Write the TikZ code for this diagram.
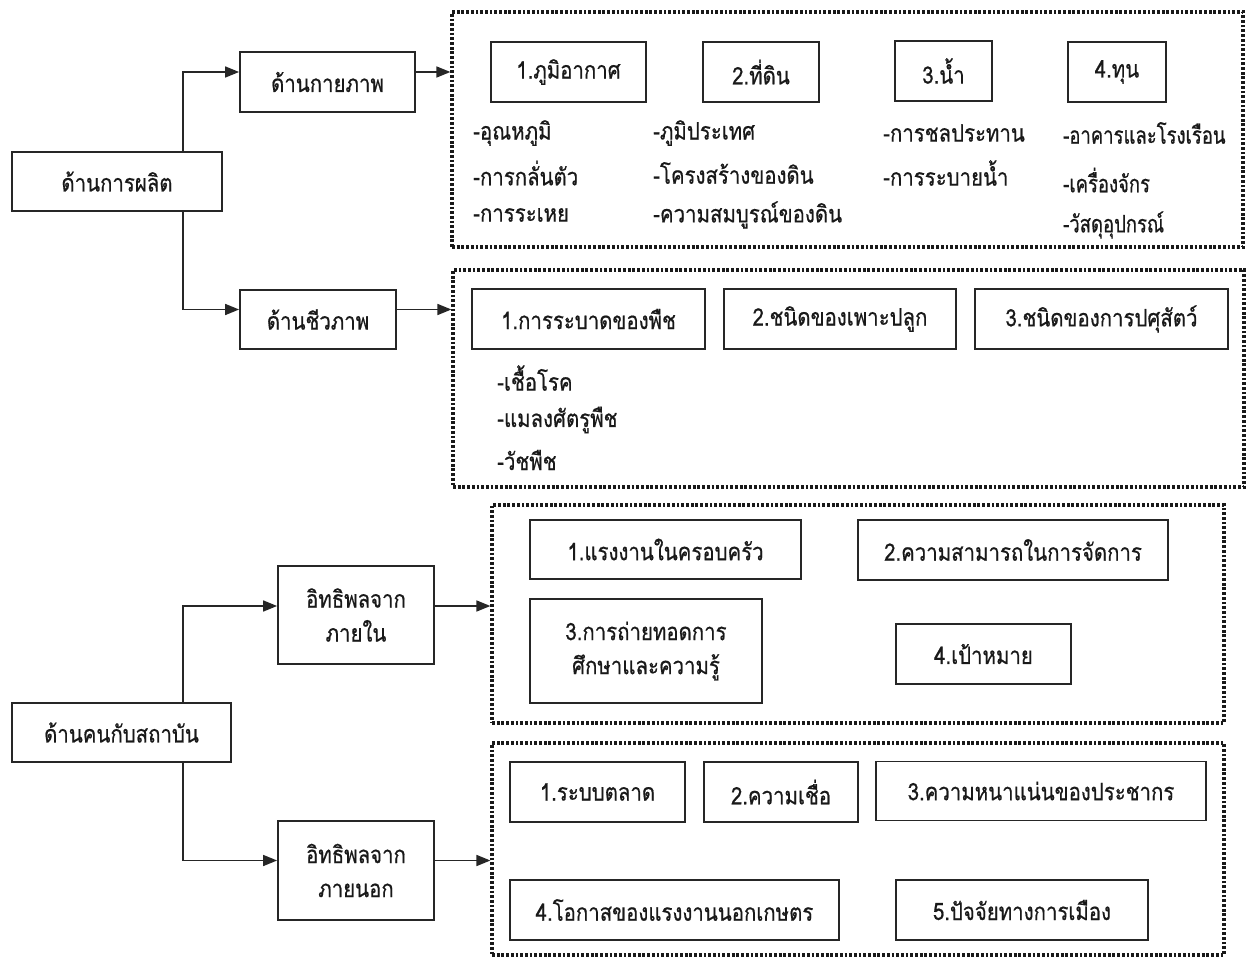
\documentclass[tikz,border=0pt]{standalone}
\usepackage{fontspec}
\setmainfont{Liberation Serif}
\newfontfamily\thai[Script=Thai,FakeStretch=0.85,FakeBold=0.6]{Loma}
\newfontfamily\thain[Script=Thai,FakeStretch=0.77,FakeBold=0.6]{Loma}
\usetikzlibrary{arrows.meta,calc}
\tikzset{
  box/.style={draw=black!85, line width=1.8pt, inner sep=0pt, align=center, text=black!90,
    font=\thai\fontsize{24}{34}\selectfont},
  dotbox/.style={draw=black!90, line width=3.2pt, dash pattern=on 2.8pt off 1.9pt, inner sep=0pt},
  item/.style={anchor=west, inner sep=0pt, text=black!90, font=\thai\fontsize{24}{28}\selectfont},
  nitem/.style={item, font=\thain\fontsize{24}{28}\selectfont},
  arr/.style={draw=black!85, line width=1.6pt, -{Triangle[length=14pt,width=11pt]}},
}
\begin{document}
\begin{tikzpicture}[x=1pt,y=-1pt]
\useasboundingbox[fill=white] (0,0) rectangle (1253,957);
\coordinate (j1) at (183,0);

% left column
\node[box, minimum width=210, minimum height=59] (prod) at (117,181.5) {ด้านการผลิต};
\node[box, minimum width=175, minimum height=60] (phys) at (327.5,82) {ด้านกายภาพ};
\node[box, minimum width=156, minimum height=59] (bio) at (318,319.5) {ด้านชีวภาพ};
\node[box, minimum width=219, minimum height=59] (people) at (121.5,732.5) {ด้านคนกับสถาบัน};
\node[box, minimum width=156, minimum height=98] (inner) at (356,615) {อิทธิพลจาก\\ภายใน};
\node[box, minimum width=156, minimum height=99] (outer) at (356,870.5) {อิทธิพลจาก\\ภายนอก};

% dotted groups
\node[dotbox, minimum width=791, minimum height=235] (g1) at (847.5,129.5) {};
\node[dotbox, minimum width=791, minimum height=217] (g2) at (848.5,378.5) {};
\node[dotbox, minimum width=732, minimum height=218] (g3) at (858,614) {};
\node[dotbox, minimum width=732, minimum height=212] (g4) at (858,849) {};

% group 1
\node[box, minimum width=155, minimum height=60] (c1) at (568.5,72) {1.ภูมิอากาศ};
\node[box, minimum width=116, minimum height=60] (c2) at (761,72) {2.ที่ดิน};
\node[box, minimum width=97, minimum height=60] (c3) at (943.5,71) {3.น้ำ};
\node[box, minimum width=98, minimum height=60] (c4) at (1117,72) {4.ทุน};
\node[item] (c1a) at (473,133) {-อุณหภูมิ};
\node[item] (c1b) at (473,173) {-การกลั่นตัว};
\node[item] (c1c) at (473,215) {-การระเหย};
\node[item] (c2a) at (653,133) {-ภูมิประเทศ};
\node[item] (c2b) at (653,173) {-โครงสร้างของดิน};
\node[item] (c2c) at (653,215) {-ความสมบูรณ์ของดิน};
\node[item] (c3a) at (883,133) {-การชลประทาน};
\node[item] (c3b) at (883,173) {-การระบายน้ำ};
\node[nitem] (c4a) at (1063,133) {-อาคารและโรงเรือน};
\node[nitem] (c4b) at (1063,180) {-เครื่องจักร};
\node[nitem] (c4c) at (1063,225) {-วัสดุอุปกรณ์};

% group 2
\node[box, minimum width=233, minimum height=60] (b1) at (588.5,319) {1.การระบาดของพืช};
\node[box, minimum width=232, minimum height=60] (b2) at (840,319) {2.ชนิดของเพาะปลูก};
\node[box, minimum width=253, minimum height=60] (b3) at (1101.5,319) {3.ชนิดของการปศุสัตว์};
\node[item] (b1a) at (497,378) {-เชื้อโรค};
\node[item] (b1b) at (497,420) {-แมลงศัตรูพืช};
\node[item] (b1c) at (497,460) {-วัชพืช};

% group 3
\node[box, minimum width=271, minimum height=59] (d1) at (665.5,549.5) {1.แรงงานในครอบครัว};
\node[box, minimum width=310, minimum height=60] (d2) at (1013,550) {2.ความสามารถในการจัดการ};
\node[box, minimum width=232, minimum height=104] (d3) at (646,651) {3.การถ่ายทอดการ\\ศึกษาและความรู้};
\node[box, minimum width=175, minimum height=60] (d4) at (983.5,654) {4.เป้าหมาย};

% group 4
\node[box, minimum width=175, minimum height=60] (e1) at (597.5,792) {1.ระบบตลาด};
\node[box, minimum width=154, minimum height=60] (e2) at (781,792) {2.ความเชื่อ};
\node[box, minimum width=330, minimum height=59] (e3) at (1041,791) {3.ความหนาแน่นของประชากร};
\node[box, minimum width=329, minimum height=60] (e4) at (674.5,910) {4.โอกาสของแรงงานนอกเกษตร};
\node[box, minimum width=252, minimum height=60] (e5) at (1022,910) {5.ปัจจัยทางการเมือง};

% connectors
\draw[arr] (prod.north -| j1) |- ($(phys.west)+(0,-10)$);
\draw[arr] (prod.south -| j1) |- ($(bio.west)+(0,-10)$);
\draw[arr] ($(phys.east)+(0,-10)$) -- ($(g1.west |- phys.east)+(0,-10)$);
\draw[arr] ($(bio.east)+(0,-10)$) -- ($(g2.west |- bio.east)+(0,-10)$);
\draw[arr] (people.north -| j1) |- ($(inner.west)+(0,-9)$);
\draw[arr] (people.south -| j1) |- ($(outer.west)+(0,-10)$);
\draw[arr] ($(inner.east)+(0,-9)$) -- ($(g3.west |- inner.east)+(0,-9)$);
\draw[arr] ($(outer.east)+(0,-10)$) -- ($(g4.west |- outer.east)+(0,-10)$);
\end{tikzpicture}
\end{document}
